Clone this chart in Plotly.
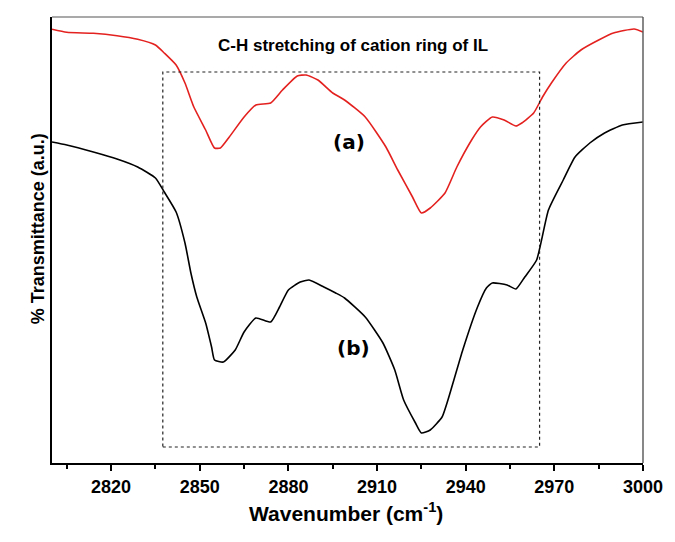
import plotly.graph_objects as go

# Wavenumber (cm^-1) and transmittance (arbitrary units)
wn_a = [2800, 2805, 2814, 2822, 2829, 2835, 2838, 2842, 2845, 2848, 2852, 2855, 2857,
        2860, 2865, 2869, 2874, 2878, 2883, 2886, 2890, 2895, 2899, 2906, 2913, 2917,
        2922, 2925, 2928, 2933, 2937, 2942, 2945, 2949, 2953, 2957, 2959, 2963, 2966,
        2969, 2974, 2979, 2985, 2990, 2997, 3000]
tr_a = [433.7, 430.7, 429.7, 427.3, 423.7, 418, 410, 398, 380, 356, 333, 315, 315,
        326, 346, 358, 360, 373, 387, 388, 383, 370, 363, 346, 316, 293,
        266, 250, 255, 270, 296, 323, 336, 346, 343, 337, 340, 350, 366,
        380, 400, 413, 423, 430, 434, 431]

wn_b = [2800, 2805, 2814, 2822, 2829, 2835, 2838, 2842, 2845, 2847, 2849, 2852, 2854,
        2855, 2858, 2862, 2865, 2869, 2874, 2877, 2880, 2884, 2887, 2892, 2896, 2899,
        2906, 2912, 2916, 2919, 2923, 2925, 2928, 2932, 2935, 2939, 2944, 2947, 2949,
        2954, 2957, 2960, 2964, 2968, 2973, 2977, 2982, 2987, 2993, 3000]
tr_b = [321, 318, 311, 304, 296, 285, 271, 251, 220, 190, 166, 140, 116,
        103, 101, 113, 131, 145, 141, 156, 173, 181, 183, 176, 170, 165,
        146, 120, 93, 63, 40, 30, 33, 46, 73, 113, 156, 175, 180,
        178, 174, 186, 203, 253, 283, 306, 320, 330, 338, 341]

x_ticks = [2820, 2850, 2880, 2910, 2940, 2970, 3000]
box_x = [2837.5, 2965]
box_y = [16, 391]

title_text = "C-H stretching of cation ring of IL"
label_a = "(a)"
label_b = "(b)"

fig = go.Figure()
fig.add_trace(go.Scatter(x=wn_a, y=tr_a, mode="lines",
                         line=dict(color="#e3211f", width=1.6, shape="spline", smoothing=0.5),
                         showlegend=False, hoverinfo="skip"))
fig.add_trace(go.Scatter(x=wn_b, y=tr_b, mode="lines",
                         line=dict(color="#000000", width=1.6, shape="spline", smoothing=0.5),
                         showlegend=False, hoverinfo="skip"))

# dotted box
fig.add_shape(type="rect", xref="x", yref="y", x0=box_x[0], x1=box_x[1], y0=box_y[0], y1=box_y[1],
              line=dict(color="#222222", width=1.2, dash="dot"))
# top/right frame (lighter)
fig.add_shape(type="line", xref="paper", yref="paper", x0=0, x1=1, y0=1, y1=1,
              line=dict(color="#555555", width=1.2))
fig.add_shape(type="line", xref="paper", yref="paper", x0=1, x1=1, y0=0, y1=1,
              line=dict(color="#555555", width=1.4))

fig.add_annotation(x=2902, y=418, xref="x", yref="y", text=title_text, showarrow=False,
                   font=dict(family="Liberation Sans", size=17, color="black", weight="bold"))
fig.add_annotation(x=2900.4, y=321, xref="x", yref="y", text=label_a, showarrow=False,
                   font=dict(family="DejaVu Sans", size=20, color="black", weight="bold"))
fig.add_annotation(x=2902, y=115, xref="x", yref="y", text=label_b, showarrow=False,
                   font=dict(family="DejaVu Sans", size=20, color="black", weight="bold"))

# axis titles
fig.add_annotation(x=-0.045, y=0.525, xref="paper", yref="paper", textangle=-90,
                   text="% Transmittance (a.u.)", showarrow=False,
                   font=dict(family="Liberation Sans", size=18, color="black", weight="bold"))
fig.add_annotation(x=0.498, y=-0.143, xref="paper", yref="paper",
                   text="Wavenumber (cm<sup>-1</sup>)", showarrow=False,
                   font=dict(family="Liberation Sans", size=21, color="black", weight="bold"))

fig.update_layout(
    width=675, height=542,
    margin=dict(l=52, r=23, t=17, b=79),
    paper_bgcolor="white", plot_bgcolor="white",
    xaxis=dict(range=[2800, 3000], tickvals=x_ticks, ticks="outside", ticklen=6, tickwidth=2,
               tickcolor="black", showline=True, linecolor="black", linewidth=2,
               showgrid=False, zeroline=False,
               tickfont=dict(family="Liberation Sans", size=18, color="black", weight="bold"),
               minor=dict(dtick=30, tick0=2805, ticks="outside", ticklen=4, tickwidth=2,
                          tickcolor="black", showgrid=False)),
    yaxis=dict(range=[0, 446], showticklabels=False, ticks="", showline=True,
               linecolor="black", linewidth=2, showgrid=False, zeroline=False),
)

fig.write_html("out.html")
